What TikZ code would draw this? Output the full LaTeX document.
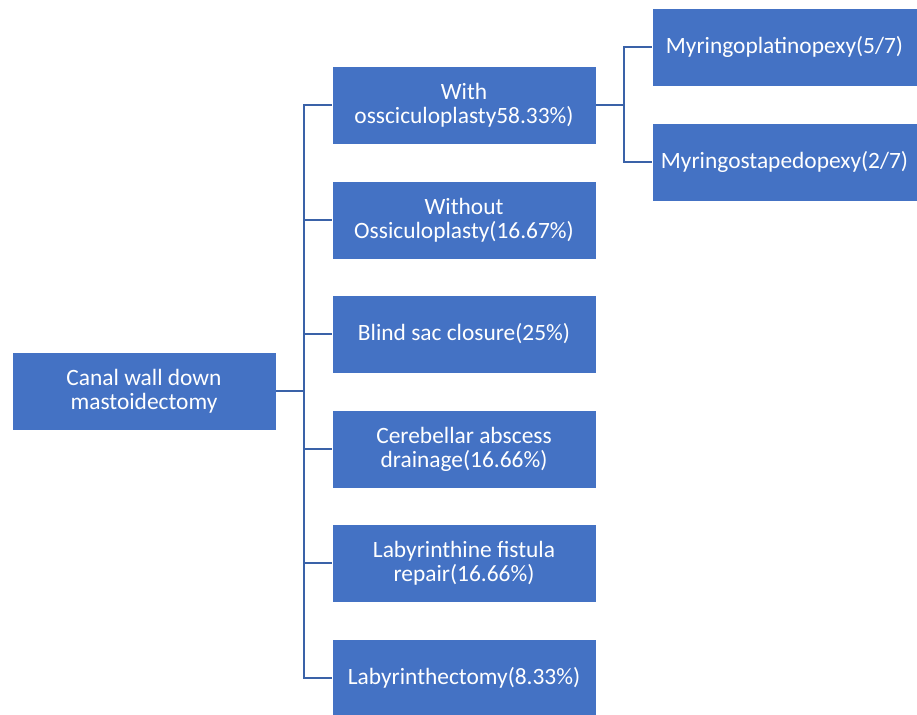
\documentclass[tikz,border=0pt]{standalone}
\usepackage{fontspec}
\setmainfont{Carlito}
\definecolor{boxblue}{HTML}{4472C4}
\definecolor{lineblue}{HTML}{3A62A8}

\begin{document}
\begin{tikzpicture}[x=1pt,y=-1pt,
  box/.style={fill=boxblue,draw=white,line width=0.8pt,text=white,align=center,
    minimum width=264pt,minimum height=78pt,inner sep=2pt,
    font=\fontsize{23.4}{24}\selectfont},
  link/.style={draw=lineblue,line width=1.8pt}]
\useasboundingbox (0,0) rectangle (917,714);
\node[box] (root) at (144,391) {Canal wall down\\mastoidectomy};
\node[box] (with) at (464,105) {With\\ossciculoplasty58.33\%)};
\node[box] (without) at (464,220) {Without\\Ossiculoplasty(16.67\%)};
\node[box] (blind) at (464,334) {Blind sac closure(25\%)};
\node[box] (cereb) at (464,449) {Cerebellar abscess\\drainage(16.66\%)};
\node[box] (fistula) at (464,563) {Labyrinthine fistula\\repair(16.66\%)};
\node[box] (laby) at (464,678) {Labyrinthectomy(8.33\%)};
\node[box,minimum width=265pt] (platino) at (784.5,47) {Myringoplatinopexy(5/7)};
\node[box,minimum width=265pt] (stapedo) at (784.5,162) {Myringostapedopexy(2/7)};
\coordinate (spine) at (304,391);
\coordinate (fork) at (624,105);
\draw[link] (root.east) -- (spine);
\draw[link] (spine) |- (with.west);
\draw[link] (spine) |- (without.west);
\draw[link] (spine) |- (blind.west);
\draw[link] (spine) |- (cereb.west);
\draw[link] (spine) |- (fistula.west);
\draw[link] (spine) |- (laby.west);
\draw[link] (with.east) -- (fork);
\draw[link] (fork) |- (platino.west);
\draw[link] (fork) |- (stapedo.west);
\end{tikzpicture}
\end{document}
